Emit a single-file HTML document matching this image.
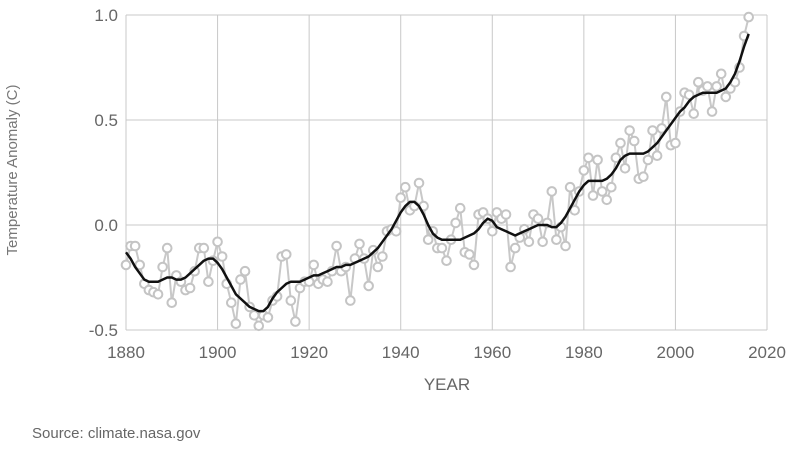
<!DOCTYPE html>
<html><head><meta charset="utf-8"><style>
html,body{margin:0;padding:0;background:#fff;}
svg{display:block;font-family:"Liberation Sans",Arial,sans-serif;}
</style></head><body>
<svg id="chart" width="790" height="471">
<g id="grid"></g>
<g id="ticks"></g>
<g id="series"></g>
<text x="447" y="390" text-anchor="middle" font-size="17" fill="#666">YEAR</text>
<text transform="translate(17,170) rotate(-90)" text-anchor="middle" font-size="15" fill="#777">Temperature Anomaly (C)</text>
<text x="32" y="438" font-size="15" fill="#666">Source: climate.nasa.gov</text>
</svg>
<script>
const startYear = 1880;
const xTicks = [1880,1900,1920,1940,1960,1980,2000,2020];
const yTicks = [-0.5,0.0,0.5,1.0];
const yTickLabels = ["-0.5","0.0","0.5","1.0"];
const annual = [-0.19,-0.10,-0.10,-0.19,-0.28,-0.31,-0.32,-0.33,-0.20,-0.11,-0.37,-0.24,-0.27,-0.31,-0.30,-0.22,-0.11,-0.11,-0.27,-0.17,
-0.08,-0.15,-0.28,-0.37,-0.47,-0.26,-0.22,-0.39,-0.43,-0.48,-0.43,-0.44,-0.36,-0.34,-0.15,-0.14,-0.36,-0.46,-0.30,-0.27,
-0.27,-0.19,-0.28,-0.26,-0.27,-0.22,-0.10,-0.22,-0.20,-0.36,-0.16,-0.09,-0.16,-0.29,-0.12,-0.20,-0.15,-0.03,-0.02,-0.03,
0.13,0.18,0.07,0.09,0.20,0.09,-0.07,-0.03,-0.11,-0.11,-0.17,-0.07,0.01,0.08,-0.13,-0.14,-0.19,0.05,0.06,0.03,
-0.03,0.06,0.03,0.05,-0.20,-0.11,-0.06,-0.02,-0.08,0.05,0.03,-0.08,0.01,0.16,-0.07,-0.01,-0.10,0.18,0.07,0.16,
0.26,0.32,0.14,0.31,0.16,0.12,0.18,0.32,0.39,0.27,0.45,0.40,0.22,0.23,0.31,0.45,0.33,0.46,0.61,0.38,
0.39,0.54,0.63,0.62,0.53,0.68,0.64,0.66,0.54,0.66,0.72,0.61,0.65,0.68,0.75,0.90,0.99];
const smoothed = [-0.13,-0.16,-0.20,-0.23,-0.26,-0.27,-0.27,-0.27,-0.26,-0.25,-0.25,-0.26,-0.26,-0.25,-0.23,-0.21,-0.19,-0.17,-0.16,-0.16,
-0.18,-0.21,-0.25,-0.29,-0.33,-0.35,-0.37,-0.39,-0.40,-0.41,-0.41,-0.39,-0.35,-0.32,-0.30,-0.28,-0.27,-0.27,-0.27,-0.26,
-0.25,-0.24,-0.24,-0.23,-0.22,-0.21,-0.20,-0.20,-0.19,-0.19,-0.18,-0.17,-0.16,-0.15,-0.13,-0.11,-0.08,-0.05,-0.02,0.02,
0.06,0.09,0.11,0.11,0.09,0.05,0.00,-0.04,-0.06,-0.07,-0.07,-0.07,-0.07,-0.07,-0.06,-0.05,-0.04,-0.02,0.01,0.03,
0.02,-0.01,-0.02,-0.03,-0.04,-0.05,-0.04,-0.03,-0.02,-0.01,0.00,0.00,0.00,-0.01,-0.01,0.01,0.04,0.08,0.12,0.16,
0.19,0.21,0.21,0.21,0.21,0.22,0.24,0.27,0.31,0.33,0.34,0.34,0.34,0.34,0.35,0.37,0.39,0.42,0.45,0.48,
0.51,0.54,0.56,0.59,0.61,0.62,0.63,0.63,0.63,0.63,0.64,0.65,0.68,0.72,0.78,0.85,0.91];

const NS="http://www.w3.org/2000/svg";
const L=126,R=767,T=15,B=330;
function xs(yr){return L+(yr-1880)/(2020-1880)*(R-L);}
function ys(v){return B-(v+0.5)/1.5*(B-T);}
function mk(tag,attrs,parent){const e=document.createElementNS(NS,tag);for(const k in attrs)e.setAttribute(k,attrs[k]);parent.appendChild(e);return e;}
const grid=document.getElementById('grid'),ticks=document.getElementById('ticks'),series=document.getElementById('series');
xTicks.forEach(t=>{
  const l=mk('line',{x1:xs(t),x2:xs(t),y1:T,y2:B,stroke:'#c8c8c8','stroke-width':1},grid);
  
  
  const tx=mk('text',{x:xs(t),y:358,'text-anchor':'middle','font-size':17,fill:'#666'},ticks);
  tx.textContent=t;
  
  
});
yTicks.forEach((t,i)=>{
  const l=mk('line',{x1:L,x2:R,y1:ys(t),y2:ys(t),stroke:'#c8c8c8','stroke-width':1},grid);
  
  
  const tx=mk('text',{x:118,y:ys(t)+6,'text-anchor':'end','font-size':17,fill:'#666'},ticks);
  tx.textContent=yTickLabels[i];
  
  
});
const a=mk('polyline',{points:annual.map((v,i)=>xs(startYear+i)+','+ys(v)).join(' '),fill:'none',stroke:'#c8c8c8','stroke-width':2},series);


annual.forEach((v,i)=>{
  const c=mk('circle',{cx:xs(startYear+i),cy:ys(v),r:4.3,fill:'#fff',stroke:'#c4c4c4','stroke-width':2},series);
  
  
});
const s=mk('polyline',{points:smoothed.map((v,i)=>xs(startYear+i)+','+ys(v)).join(' '),fill:'none',stroke:'#111','stroke-width':2.5,'stroke-linejoin':'round'},series);


</script>
</body></html>
